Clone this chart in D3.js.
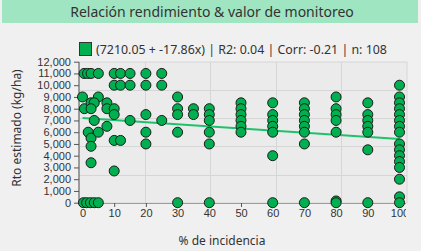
<!DOCTYPE html>
<html>
<head>
<meta charset="utf-8">
<script src="https://cdn.jsdelivr.net/npm/d3@7"></script>
<style>
  html, body { margin: 0; padding: 0; background: #f0f0f0; }
  svg { display: block; }
</style>
</head>
<body>
<svg id="chart"></svg>
<script>
// Chart texts
const titleText = "Relación rendimiento & valor de monitoreo";
const legendText = "(7210.05 + -17.86x) | R2: 0.04 | Corr: -0.21 | n: 108";
const xTitle = "% de incidencia";
const yTitle = "Rto estimado (kg/ha)";

// Regression from the legend
const lineIntercept = 7210.05;
const lineSlope = -17.86;

// Points: % de incidencia and Rto estimado (kg/ha), same order
const incidencia = [
  0, 0.6, 0.5, 1.6, 2.7, 5, 5, 2.7, 3.7, 2.7, 3.7, 1.8, 2.7, 2.7, 2.7, 5, 0.3, 1.3, 2.5, 3.7, 5,
  7.7, 7.7, 7.7,
  10, 10, 10, 10, 10, 10,
  12, 12, 12,
  15, 15, 15,
  20, 20, 20, 20, 20,
  25, 25, 25,
  30, 30, 30, 30, 30,
  35, 35,
  40, 40, 40, 40, 40, 40,
  50, 50, 50, 50, 50, 50,
  60, 60, 60, 60, 60, 60, 60,
  70, 70, 70, 70, 70, 70, 70, 70,
  80, 80, 80, 80, 80, 80, 80,
  90, 90, 90, 90, 90, 90, 90,
  100, 100, 100, 100, 100, 100, 100, 100, 100, 100, 100, 100, 100, 100, 100, 100
];
const rendimiento = [
  9000, 8000, 11000, 11000, 11000, 11000, 9000, 8500, 8500, 8000, 7000, 6000, 5500, 4800, 3400, 6000, 0, 0, 0, 0, 0,
  8500, 8000, 6500,
  11000, 10000, 8000, 7500, 5300, 2700,
  11000, 10000, 5300,
  11000, 10000, 7000,
  11000, 10000, 7500, 6000, 5000,
  11000, 10000, 7000,
  9000, 8000, 7500, 6000, 0,
  8000, 7500,
  8000, 7500, 7000, 6000, 5000, 0,
  8500, 8000, 7500, 7000, 6500, 6000,
  8500, 7500, 7000, 6500, 6000, 4000, 0,
  8500, 8000, 7500, 7000, 6500, 6000, 5000, 0,
  9000, 8000, 7500, 7000, 6000, 150, 0,
  8500, 7500, 7000, 6500, 6000, 4500, 0,
  10000, 9000, 8500, 8000, 7500, 7000, 6500, 6000, 5000, 4500, 4000, 3500, 3000, 2000, 500, 0
];

// Axis ticks
const xTicks = [0, 10, 20, 30, 40, 50, 60, 70, 80, 90, 100];
const yTicks = d3.range(0, 12001, 1000);

const width = 421;
const height = 251;
const plot = { left: 79, right: 407, top: 62, bottom: 203 };

const svg = d3.select("#chart")
  .attr("width", width)
  .attr("height", height);

// Title band
svg.append("rect")
  .attr("x", 2).attr("y", 0)
  .attr("width", 416).attr("height", 23)
  .attr("fill", "#a0e5c2");
svg.append("text")
  .attr("x", 212).attr("y", 16.5)
  .attr("text-anchor", "middle")
  .attr("font-family", "'Noto Sans', sans-serif")
  .attr("font-size", 14)
  .attr("fill", "#333")
  .text(titleText);

// Legend
svg.append("rect")
  .attr("x", 79.5).attr("y", 42.5)
  .attr("width", 12).attr("height", 13)
  .attr("fill", "#00b050")
  .attr("stroke", "#333");
svg.append("text")
  .attr("x", 96).attr("y", 54)
  .attr("font-family", "'Noto Sans', sans-serif")
  .attr("font-size", 12.4)
  .attr("fill", "#333")
  .text(legendText);

const x = d3.scaleLinear().domain([0, 100]).range([82.5, 399.5]);
const y = d3.scaleLinear().domain([0, 12000]).range([202.7, 61.7]);

// Plot background and grid (5 equal divisions)
svg.append("rect")
  .attr("x", plot.left).attr("y", plot.top)
  .attr("width", plot.right - plot.left).attr("height", plot.bottom - plot.top)
  .attr("fill", "#ebebeb")
  .attr("stroke", "#d6d6d6");

const grid = svg.append("g").attr("stroke", "#d6d6d6").attr("stroke-width", 1);
d3.range(1, 5).forEach(i => {
  const gx = Math.round(plot.left + i * (plot.right - plot.left) / 5) + 0.5;
  grid.append("line").attr("x1", gx).attr("x2", gx).attr("y1", plot.top).attr("y2", plot.bottom);
});
d3.range(2400, 12000, 2400).forEach(v => {
  const gy = Math.round(y(v)) + 0.5;
  grid.append("line").attr("x1", plot.left).attr("x2", plot.right).attr("y1", gy).attr("y2", gy);
});

// Axes
const yAxis = svg.append("g")
  .attr("transform", `translate(${plot.left},0)`)
  .call(d3.axisLeft(y).tickValues(yTicks).tickFormat(d3.format(",")).tickSize(5).tickSizeOuter(0));
const xAxis = svg.append("g")
  .attr("transform", `translate(0,${plot.bottom})`)
  .call(d3.axisBottom(x).tickValues(xTicks).tickSize(4).tickSizeOuter(0));

[xAxis, yAxis].forEach(g => {
  g.selectAll("text")
    .attr("font-family", "'Liberation Sans', Arial, sans-serif")
    .attr("font-size", 11)
    .attr("fill", "#333");
  g.selectAll("line").attr("stroke", "#555");
});
yAxis.select(".domain").attr("stroke", "#555").attr("d", `M0,${plot.top}V${plot.bottom}`);
xAxis.select(".domain").attr("stroke", "#555").attr("d", `M${plot.left},0H${plot.right}`);
yAxis.selectAll("text").attr("x", -8);
xAxis.selectAll("text").attr("y", 6);

// Clip the last x label at the plot edge, like the original
svg.append("clipPath").attr("id", "xclip")
  .append("rect").attr("x", 0).attr("y", 0).attr("width", plot.right - 1).attr("height", height);
xAxis.attr("clip-path", "url(#xclip)");

// Regression line
svg.append("line")
  .attr("x1", x(0)).attr("y1", y(lineIntercept))
  .attr("x2", x(100)).attr("y2", y(lineIntercept + lineSlope * 100))
  .attr("stroke", "#1ec26b")
  .attr("stroke-width", 2);

// Points
const points = incidencia.map((v, i) => ({ x: v, y: rendimiento[i] }));
svg.append("g")
  .selectAll("circle")
  .data(points)
  .join("circle")
  .attr("cx", d => x(d.x))
  .attr("cy", d => y(d.y))
  .attr("r", 5)
  .attr("fill", "#00b050")
  .attr("stroke", "#1a1a1a")
  .attr("stroke-width", 1);

// Axis titles
svg.append("text")
  .attr("x", 222).attr("y", 245)
  .attr("text-anchor", "middle")
  .attr("font-family", "'Noto Sans', sans-serif")
  .attr("font-size", 12)
  .attr("fill", "#333")
  .text(xTitle);
svg.append("text")
  .attr("transform", "translate(21,128) rotate(-90)")
  .attr("text-anchor", "middle")
  .attr("font-family", "'Noto Sans', sans-serif")
  .attr("font-size", 12)
  .attr("fill", "#333")
  .text(yTitle);
</script>
</body>
</html>
